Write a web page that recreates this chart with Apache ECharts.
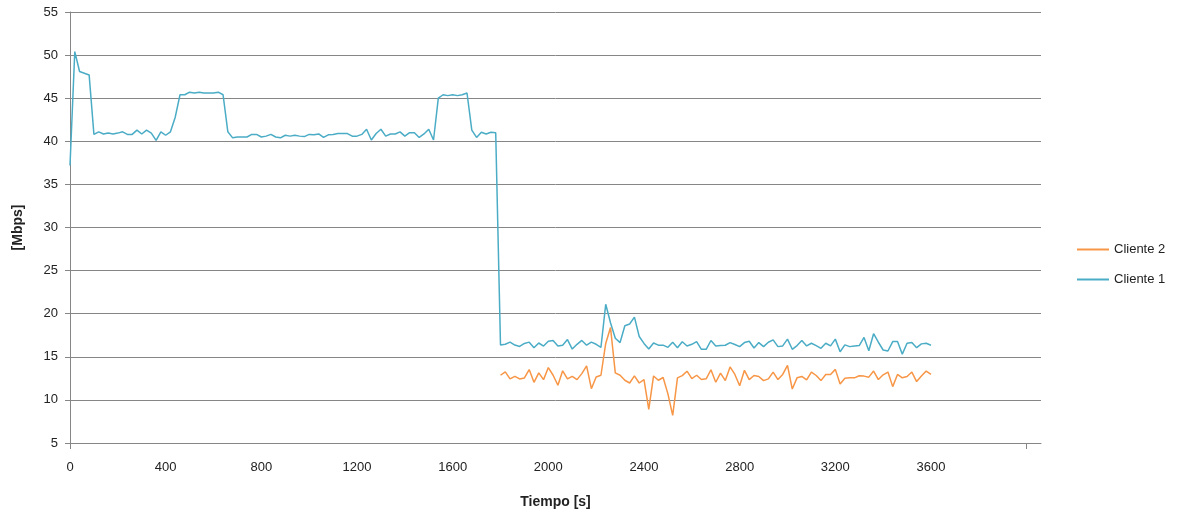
<!DOCTYPE html>
<html>
<head>
<meta charset="utf-8">
<title>Cliente 1 / Cliente 2 [Mbps]</title>
<script src="https://cdn.jsdelivr.net/npm/echarts@6/dist/echarts.min.js"></script>
<style>
  html, body { margin: 0; padding: 0; background: #ffffff; }
  #grafico { width: 1181px; height: 514px; }
</style>
</head>
<body>
<div id="grafico"></div>
<script>
// Muestras cada 20 s
const pasoSeg = 20;
const inicioCliente1 = 0;
const inicioCliente2 = 1800;

// Throughput del cliente 1 [Mbps], t = 0 ... 3600 s
const cliente1 = [
  37.2, 50.4, 48.1, 47.9, 47.7, 40.8, 41.1, 40.85, 40.95, 40.85,
  40.95, 41.1, 40.8, 40.8, 41.3, 40.85, 41.3, 40.95, 40.1, 41.1,
  40.7, 41.1, 42.8, 45.4, 45.4, 45.7, 45.6, 45.7, 45.6, 45.6,
  45.6, 45.7, 45.4, 41.1, 40.4, 40.5, 40.5, 40.5, 40.8, 40.8,
  40.5, 40.6, 40.8, 40.5, 40.4, 40.7, 40.6, 40.7, 40.6, 40.55,
  40.8, 40.75, 40.85, 40.45, 40.75, 40.8, 40.9, 40.9, 40.9, 40.6,
  40.6, 40.8, 41.4, 40.15, 40.9, 41.4, 40.6, 40.85, 40.85, 41.1,
  40.6, 41.0, 41.0, 40.45, 40.85, 41.4, 40.15, 45.0, 45.4, 45.3,
  45.4, 45.3, 45.4, 45.6, 41.3, 40.45, 41.05, 40.85, 41.05, 41.0,
  16.36, 16.45, 16.7, 16.36, 16.2, 16.55, 16.7, 16.05, 16.6, 16.25,
  16.8, 16.9, 16.25, 16.35, 17.0, 15.9, 16.45, 16.9, 16.35, 16.7,
  16.45, 16.1, 21.1, 18.95, 17.15, 16.65, 18.6, 18.8, 19.6, 17.35,
  16.55, 15.9, 16.6, 16.35, 16.35, 16.1, 16.7, 16.05, 16.75, 16.25,
  16.45, 16.75, 15.87, 15.87, 16.89, 16.26, 16.3, 16.34, 16.65, 16.42,
  16.18, 16.65, 16.81, 16.02, 16.65, 16.18, 16.69, 16.97, 16.18, 16.26,
  17.05, 15.87, 16.3, 16.89, 16.26, 16.57, 16.3, 15.98, 16.57, 16.26,
  17.05, 15.59, 16.38, 16.18, 16.26, 16.3, 17.24, 15.7, 17.68, 16.69,
  15.79, 15.67, 16.77, 16.77, 15.31, 16.57, 16.65, 16.06, 16.5, 16.57,
  16.34
];

// Throughput del cliente 2 [Mbps], t = 1800 ... 3600 s
const cliente2 = [
  12.86, 13.25, 12.43, 12.74, 12.43, 12.55, 13.52, 12.04, 13.13, 12.35,
  13.75, 12.86, 11.7, 13.37, 12.43, 12.74, 12.35, 13.05, 13.95, 11.3,
  12.66, 12.86, 16.55, 18.4, 13.13, 12.86, 12.28, 11.96, 12.78, 11.96,
  12.35, 8.9, 12.78, 12.28, 12.6, 10.7, 8.2, 12.55, 12.82, 13.33,
  12.47, 12.86, 12.36, 12.44, 13.5, 12.05, 13.11, 12.24, 13.82, 12.95,
  11.65, 13.43, 12.36, 12.83, 12.72, 12.24, 12.44, 13.23, 12.36, 12.95,
  14.0, 11.26, 12.56, 12.72, 12.32, 13.23, 12.83, 12.24, 12.95, 12.95,
  13.54, 11.85, 12.52, 12.56, 12.56, 12.8, 12.76, 12.64, 13.35, 12.36,
  12.91, 13.23, 11.54, 12.95, 12.56, 12.72, 13.23, 12.13, 12.76, 13.35,
  12.95
];

// Etiquetas y marcas del eje de tiempo
const etiquetasTiempo = [0, 400, 800, 1200, 1600, 2000, 2400, 2800, 3200, 3600];
const marcasTiempo = [0, 4000];
const etiquetasMbps = [5, 10, 15, 20, 25, 30, 35, 40, 45, 50, 55];

const serie = (valores, inicio) => valores.map((v, i) => [inicio + i * pasoSeg, v]);

const gris = '#868686';
const fuente = 'Liberation Sans, Arial, sans-serif';

const chart = echarts.init(document.getElementById('grafico'), null, { renderer: 'canvas' });

chart.setOption({
  animation: false,
  backgroundColor: '#ffffff',
  grid: { left: 70, right: 140, top: 12, bottom: 71, containLabel: false },
  legend: {
    orient: 'vertical',
    left: 1077,
    top: 242,
    padding: 0,
    icon: 'rect',
    itemWidth: 32,
    itemHeight: 2,
    itemGap: 15,
    data: ['Cliente 2', 'Cliente 1'],
    textStyle: { fontFamily: fuente, fontSize: 13, color: '#222', lineHeight: 15 }
  },
  xAxis: {
    type: 'value',
    min: 0,
    max: 4060,
    interval: 400,
    name: 'Tiempo [s]',
    nameLocation: 'middle',
    nameGap: 52,
    nameTextStyle: { fontFamily: fuente, fontSize: 14, fontWeight: 'bold', color: '#222' },
    axisLine: { show: true, onZero: false, lineStyle: { color: gris, width: 1 } },
    axisTick: { show: true, customValues: marcasTiempo, length: 6, inside: false, lineStyle: { color: gris } },
    axisLabel: {
      customValues: etiquetasTiempo,
      formatter: (v) => String(v),
      margin: 18, fontFamily: fuente, fontSize: 13, color: '#222'
    },
    splitLine: { show: false }
  },
  yAxis: {
    type: 'value',
    min: etiquetasMbps[0],
    max: etiquetasMbps[etiquetasMbps.length - 1],
    interval: 5,
    name: '[Mbps]',
    nameLocation: 'middle',
    nameGap: 45,
    nameRotate: 90,
    nameTextStyle: { fontFamily: fuente, fontSize: 14, fontWeight: 'bold', color: '#222' },
    axisLine: { show: true, lineStyle: { color: gris, width: 1 } },
    axisTick: { show: true, length: 5, lineStyle: { color: gris } },
    axisLabel: { margin: 12, fontFamily: fuente, fontSize: 13, color: '#222' },
    splitLine: { show: true, lineStyle: { color: gris, width: 1 } }
  },
  series: [
    {
      name: 'Cliente 2',
      type: 'line',
      data: serie(cliente2, inicioCliente2),
      symbol: 'none',
      color: '#F79646',
      lineStyle: { color: '#F79646', width: 1.5 },
      z: 3
    },
    {
      name: 'Cliente 1',
      type: 'line',
      data: serie(cliente1, inicioCliente1),
      symbol: 'none',
      color: '#4BACC6',
      lineStyle: { color: '#4BACC6', width: 1.5 },
      z: 2
    }
  ]
});
</script>
</body>
</html>
